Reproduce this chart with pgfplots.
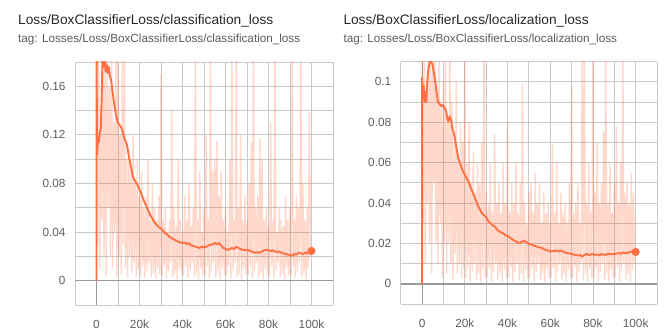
\documentclass[border=0pt]{standalone}
\usepackage{fontspec}
\setmainfont{Liberation Sans}
\usepackage{pgfplots}
\pgfplotsset{compat=1.18}
\definecolor{tbor}{HTML}{FF7043}
\definecolor{gridc}{HTML}{C9C9C9}
\definecolor{zeroc}{HTML}{9A9A9A}
\definecolor{tickc}{HTML}{5E5E5E}
\definecolor{titlec}{HTML}{262626}
\definecolor{subc}{HTML}{5A5A5A}
\pgfplotsset{
  tbaxis/.style={
    scale only axis,
    xmin=-10000, xmax=110000,
    axis line style={draw=none},
    major tick length=0pt, minor tick length=0pt,
    tick style={draw=none},
    grid=both,
    major grid style={draw=gridc, line width=0.8bp},
    minor grid style={draw=gridc, line width=0.8bp},
    xtick={0,20000,40000,60000,80000,100000},
    xticklabels={0,20k,40k,60k,80k,100k},
    minor xtick={-10000,10000,30000,50000,70000,90000,110000},
    scaled x ticks=false, scaled y ticks=false,
    /pgf/number format/assume math mode=true,
    ticklabel style={font=\fontsize{11.8bp}{13bp}\selectfont, text=tickc},
    xticklabel style={yshift=-11.5bp},
    yticklabel style={xshift=-6bp},
    extra x ticks={0}, extra x tick labels={},
    extra x tick style={grid=major, major grid style={draw=zeroc, line width=0.9bp}},
    extra y ticks={0}, extra y tick labels={},
    extra y tick style={grid=major, major grid style={draw=zeroc, line width=1.6bp}},
  },
  raw/.style={draw=tbor, draw opacity=0.27, line width=1.35bp, line join=bevel, no marks},
  smooth/.style={draw=tbor, line width=1.9bp, line join=round, no marks},
  enddot/.style={only marks, mark=*, mark size=3.8bp, color=tbor}
}
\begin{document}
\begin{tikzpicture}
\path[use as bounding box] (0,0) rectangle (665bp,336bp);
\node[anchor=base west, inner sep=0, text=titlec, font=\fontsize{13.7bp}{16bp}\selectfont] at (18bp,311bp) {Loss/BoxClassifierLoss/classification\_loss};
\node[anchor=base west, inner sep=0, text=subc, font=\fontsize{11.7bp}{14bp}\selectfont] at (18bp,293.5bp) {tag: Losses/Loss/BoxClassifierLoss/classification\_loss};
\node[anchor=base west, inner sep=0, text=titlec, font=\fontsize{13.7bp}{16bp}\selectfont] at (343.3bp,311bp) {Loss/BoxClassifierLoss/localization\_loss};
\node[anchor=base west, inner sep=0, text=subc, font=\fontsize{11.7bp}{14bp}\selectfont] at (343.3bp,293.5bp) {tag: Losses/Loss/BoxClassifierLoss/localization\_loss};

\begin{axis}[tbaxis, at={(75bp,31bp)}, anchor=south west, width=258bp, height=243bp,
  ymin=-0.02, ymax=0.18,
  ytick={0,0.04,0.08,0.12,0.16}, yticklabels={0,0.04,0.08,0.12,0.16},
  minor ytick={-0.02,0.02,0.06,0.10,0.14,0.18}]
\addplot[raw] coordinates {
(0,0)(0,0.19)(500,0.03)(1000,0.19)(1500,0.01)(2000,0.14)(2500,0.05)(3000,0.19)(3500,0.02)(4000,0.19)(4500,0.004)(5000,0.19)(5500,0.06)(6000,0.16)(6500,0.02)(7000,0.19)(7500,0.01)(8000,0.13)(8500,0.04)(9000,0.19)(9500,0.003)
(10000,0.19)(10500,0.02)(11000,0.12)(11500,0.005)(12000,0.19)(12500,0.03)(13000,0.19)(13500,0.01)(14000,0.10)(14500,0.002)(15000,0.11)(15500,0.02)(16000,0.09)(16500,0.006)(17000,0.12)(17500,0.015)(18000,0.08)(18500,0.003)(19000,0.10)(19500,0.01)
(20000,0.07)(20500,0.004)(21000,0.09)(21500,0.012)(22000,0.06)(22500,0.002)(23000,0.07)(23500,0.008)(24000,0.10)(24500,0.015)(25000,0.05)(25500,0.003)(26000,0.08)(26500,0.006)(27000,0.06)(27500,0.001)(28000,0.05)(28500,0.01)(29000,0.07)(29500,0.005)
(30000,0.17)(30500,0.004)(31000,0.05)(31500,0.012)(32000,0.06)(32500,0.002)(33000,0.04)(33500,0.008)(34000,0.05)(34500,0.015)(35000,0.14)(35500,0.003)(36000,0.06)(36500,0.006)(37000,0.045)(37500,0.001)(38000,0.10)(38500,0.01)(39000,0.05)(39500,0.005)
(40000,0.04)(40500,0.004)(41000,0.07)(41500,0.012)(42000,0.05)(42500,0.002)(43000,0.08)(43500,0.008)(44000,0.045)(44500,0.015)(45000,0.06)(45500,0.003)(46000,0.19)(46500,0.006)(47000,0.05)(47500,0.001)(48000,0.09)(48500,0.01)(49000,0.04)(49500,0.005)
(50000,0.06)(50500,0.004)(51000,0.12)(51500,0.012)(52000,0.05)(52500,0.002)(53000,0.19)(53500,0.008)(54000,0.09)(54500,0.015)(55000,0.10)(55500,0.003)(56000,0.115)(56500,0.006)(57000,0.07)(57500,0.001)(58000,0.09)(58500,0.01)(59000,0.05)(59500,0.005)
(60000,0.06)(60500,0.004)(61000,0.04)(61500,0.012)(62000,0.10)(62500,0.002)(63000,0.19)(63500,0.008)(64000,0.05)(64500,0.015)(65000,0.19)(65500,0.003)(66000,0.06)(66500,0.006)(67000,0.12)(67500,0.001)(68000,0.05)(68500,0.01)(69000,0.07)(69500,0.005)
(70000,0.05)(70500,0.004)(71000,0.08)(71500,0.012)(72000,0.114)(72500,0.002)(73000,0.19)(73500,0.008)(74000,0.06)(74500,0.015)(75000,0.07)(75500,0.003)(76000,0.117)(76500,0.006)(77000,0.10)(77500,0.001)(78000,0.05)(78500,0.01)(79000,0.06)(79500,0.005)
(80000,0.045)(80500,0.004)(81000,0.13)(81500,0.012)(82000,0.05)(82500,0.002)(83000,0.19)(83500,0.008)(84000,0.04)(84500,0.015)(85000,0.06)(85500,0.003)(86000,0.05)(86500,0.006)(87000,0.045)(87500,0.001)(88000,0.07)(88500,0.01)(89000,0.05)(89500,0.005)
(90000,0.06)(90500,0.004)(91000,0.19)(91500,0.012)(92000,0.05)(92500,0.002)(93000,0.07)(93500,0.008)(94000,0.06)(94500,0.015)(95000,0.19)(95500,0.003)(96000,0.08)(96500,0.006)(97000,0.05)(97500,0.001)(98000,0.06)(98500,0.01)(99000,0.139)(99500,0.02)
};
\addplot[smooth] coordinates {
(0,0)(0,0.19)(300,0.104)(700,0.118)(1100,0.114)(1500,0.122)(2000,0.125)(2400,0.15)(2800,0.185)(3300,0.176)(3800,0.182)(4200,0.172)(4700,0.178)(5200,0.171)(5700,0.176)(6200,0.169)(6800,0.165)(7300,0.158)(8000,0.148)(9000,0.137)
(10000,0.13)(10800,0.128)(11500,0.126)(12300,0.122)(13000,0.117)(14000,0.113)(15000,0.103)(16000,0.094)(17000,0.085)(18000,0.082)(19000,0.079)
(20000,0.075)(21000,0.071)(22000,0.066)(23000,0.062)(24000,0.058)(25000,0.054)(26000,0.051)(27000,0.048)(28000,0.046)(29000,0.044)
(30000,0.043)(31000,0.041)(32000,0.039)(33000,0.038)(34000,0.036)(35000,0.035)(36000,0.034)(37000,0.033)(38000,0.032)(39000,0.0315)
(40000,0.031)(41000,0.0315)(42000,0.030)(43000,0.031)(44000,0.029)(45000,0.0285)(46000,0.028)(47000,0.0275)(48000,0.027)(49000,0.028)
(50000,0.0275)(51000,0.028)(52000,0.029)(53000,0.0295)(54000,0.030)(55000,0.031)(56000,0.030)(57000,0.031)(58000,0.029)(59000,0.027)
(60000,0.026)(61000,0.0255)(62000,0.026)(63000,0.027)(64000,0.026)(65000,0.028)(66000,0.027)(67000,0.026)(68000,0.0255)(69000,0.025)
(70000,0.0255)(71000,0.025)(72000,0.024)(73000,0.0235)(74000,0.023)(75000,0.0235)(76000,0.023)(77000,0.024)(78000,0.025)(79000,0.0255)
(80000,0.025)(81000,0.0245)(82000,0.025)(83000,0.024)(84000,0.0235)(85000,0.024)(86000,0.023)(87000,0.0225)(88000,0.022)(89000,0.0215)
(90000,0.021)(91000,0.0205)(92000,0.022)(93000,0.0215)(94000,0.023)(95000,0.0225)(96000,0.022)(97000,0.023)(98000,0.0225)(99000,0.024)(100000,0.0245)
};
\addplot[enddot] coordinates {(100000,0.0245)};
\end{axis}

\begin{axis}[tbaxis, at={(400.7bp,32bp)}, anchor=south west, width=256.3bp, height=242.3bp,
  ymin=-0.01, ymax=0.11,
  ytick={0,0.02,0.04,0.06,0.08,0.1}, yticklabels={0,0.02,0.04,0.06,0.08,0.1},
  minor ytick={-0.01,0.01,0.03,0.05,0.07,0.09,0.11}]
\addplot[raw] coordinates {
(0,0)(0,0.12)(500,0.03)(1000,0.12)(1500,0.01)(2000,0.09)(2500,0.04)(3000,0.12)(3500,0.02)(4000,0.12)(4500,0.005)(5000,0.11)(5500,0.05)(6000,0.12)(6500,0.02)(7000,0.10)(7500,0.01)(8000,0.12)(8500,0.03)(9000,0.09)(9500,0.003)
(10000,0.10)(10500,0.02)(11000,0.12)(11500,0.005)(12000,0.08)(12500,0.02)(13000,0.12)(13500,0.01)(14000,0.09)(14500,0.002)(15000,0.07)(15500,0.015)(16000,0.10)(16500,0.005)(17000,0.06)(17500,0.01)(18000,0.08)(18500,0.003)(19000,0.07)(19500,0.008)
(20000,0.12)(20500,0.003)(21000,0.06)(21500,0.008)(22000,0.08)(22500,0.001)(23000,0.05)(23500,0.006)(24000,0.065)(24500,0.01)(25000,0.045)(25500,0.002)(26000,0.06)(26500,0.005)(27000,0.05)(27500,0.001)(28000,0.07)(28500,0.007)(29000,0.12)(29500,0.003)
(30000,0.045)(30500,0.003)(31000,0.04)(31500,0.008)(32000,0.06)(32500,0.001)(33000,0.035)(33500,0.006)(34000,0.074)(34500,0.01)(35000,0.04)(35500,0.002)(36000,0.05)(36500,0.005)(37000,0.035)(37500,0.001)(38000,0.06)(38500,0.007)(39000,0.04)(39500,0.003)
(40000,0.08)(40500,0.003)(41000,0.035)(41500,0.008)(42000,0.05)(42500,0.001)(43000,0.04)(43500,0.006)(44000,0.06)(44500,0.01)(45000,0.035)(45500,0.002)(46000,0.05)(46500,0.005)(47000,0.099)(47500,0.001)(48000,0.04)(48500,0.007)(49000,0.03)(49500,0.003)
(50000,0.045)(50500,0.003)(51000,0.05)(51500,0.008)(52000,0.035)(52500,0.001)(53000,0.055)(53500,0.006)(54000,0.04)(54500,0.01)(55000,0.05)(55500,0.002)(56000,0.03)(56500,0.005)(57000,0.045)(57500,0.001)(58000,0.035)(58500,0.007)(59000,0.04)(59500,0.003)
(60000,0.03)(60500,0.003)(61000,0.069)(61500,0.008)(62000,0.035)(62500,0.001)(63000,0.06)(63500,0.006)(64000,0.03)(64500,0.01)(65000,0.045)(65500,0.002)(66000,0.035)(66500,0.005)(67000,0.04)(67500,0.001)(68000,0.03)(68500,0.007)(69000,0.05)(69500,0.003)
(70000,0.098)(70500,0.003)(71000,0.035)(71500,0.008)(72000,0.04)(72500,0.001)(73000,0.05)(73500,0.006)(74000,0.03)(74500,0.01)(75000,0.12)(75500,0.002)(76000,0.12)(76500,0.005)(77000,0.04)(77500,0.001)(78000,0.06)(78500,0.007)(79000,0.035)(79500,0.003)
(80000,0.12)(80500,0.003)(81000,0.045)(81500,0.008)(82000,0.07)(82500,0.001)(83000,0.04)(83500,0.006)(84000,0.05)(84500,0.01)(85000,0.0755)(85500,0.002)(86000,0.12)(86500,0.005)(87000,0.04)(87500,0.001)(88000,0.06)(88500,0.007)(89000,0.035)(89500,0.003)
(90000,0.05)(90500,0.003)(91000,0.078)(91500,0.008)(92000,0.04)(92500,0.001)(93000,0.06)(93500,0.006)(94000,0.12)(94500,0.01)(95000,0.045)(95500,0.002)(96000,0.05)(96500,0.005)(97000,0.04)(97500,0.001)(98000,0.055)(98500,0.007)(99000,0.045)(99500,0.01)
};
\addplot[smooth] coordinates {
(0,0)(0,0.102)(400,0.095)(800,0.098)(1200,0.09)(1600,0.095)(2000,0.09)(2400,0.1)(2800,0.105)(3300,0.108)(3800,0.112)(4300,0.11)(4800,0.109)(5300,0.106)(5800,0.103)(6300,0.099)(6900,0.094)(7500,0.09)(8200,0.089)(9000,0.088)(9800,0.0885)
(10500,0.087)(11200,0.086)(11800,0.082)(12300,0.0805)(13000,0.083)(13600,0.081)(14200,0.077)(15000,0.074)(16000,0.068)(17000,0.062)(18000,0.059)(19000,0.056)
(20000,0.054)(21000,0.052)(22000,0.05)(23000,0.047)(24000,0.0445)(25000,0.042)(26000,0.039)(27000,0.037)(28000,0.035)(29000,0.034)
(30000,0.033)(31000,0.031)(32000,0.030)(33000,0.029)(34000,0.0285)(35000,0.027)(36000,0.026)(37000,0.0255)(38000,0.025)(39000,0.024)
(40000,0.0237)(41000,0.023)(42000,0.0222)(43000,0.0215)(44000,0.021)(45000,0.0203)(46000,0.0205)(47000,0.021)(48000,0.0212)(49000,0.0205)
(50000,0.0198)(51000,0.0195)(52000,0.019)(53000,0.0187)(54000,0.0183)(55000,0.018)(56000,0.0178)(57000,0.0172)(58000,0.0168)(59000,0.0165)
(60000,0.016)(61000,0.0163)(62000,0.0162)(63000,0.0165)(64000,0.016)(65000,0.0165)(66000,0.016)(67000,0.0155)(68000,0.0152)(69000,0.015)
(70000,0.0148)(71000,0.0145)(72000,0.0143)(73000,0.014)(74000,0.0142)(75000,0.0135)(76000,0.0143)(77000,0.0148)(78000,0.0142)(79000,0.0145)
(80000,0.0148)(81000,0.0143)(82000,0.0145)(83000,0.0142)(84000,0.0147)(85000,0.0145)(86000,0.0143)(87000,0.015)(88000,0.0146)(89000,0.0148)
(90000,0.0147)(91000,0.015)(92000,0.0152)(93000,0.0149)(94000,0.0155)(95000,0.0153)(96000,0.0152)(97000,0.0157)(98000,0.016)(99000,0.0158)(100000,0.0158)
};
\addplot[enddot] coordinates {(100000,0.0158)};
\end{axis}
\end{tikzpicture}
\end{document}
